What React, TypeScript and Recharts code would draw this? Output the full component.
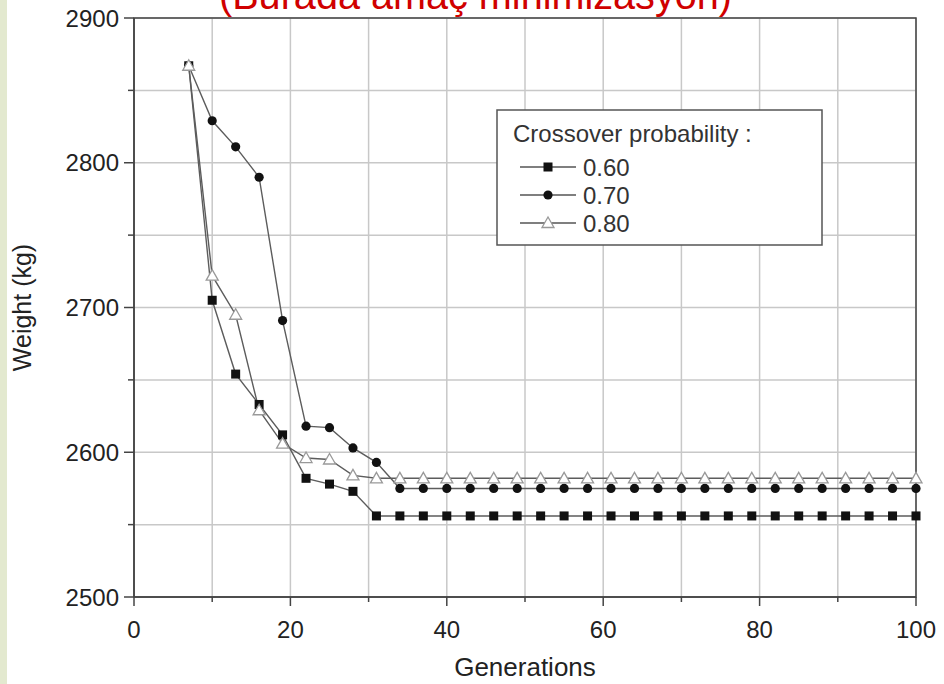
import React from 'react';
import { LineChart, Line, XAxis, YAxis, CartesianGrid, ReferenceArea, Label } from 'recharts';

const generations = [7, 10, 13, 16, 19, 22, 25, 28, 31, 34, 37, 40, 43, 46, 49, 52, 55, 58, 61, 64, 67, 70, 73, 76, 79, 82, 85, 88, 91, 94, 97, 100];
const p060 = [2867, 2705, 2654, 2633, 2612, 2582, 2578, 2573, 2556, 2556, 2556, 2556, 2556, 2556, 2556, 2556, 2556, 2556, 2556, 2556, 2556, 2556, 2556, 2556, 2556, 2556, 2556, 2556, 2556, 2556, 2556, 2556];
const p070 = [2867, 2829, 2811, 2790, 2691, 2618, 2617, 2603, 2593, 2575, 2575, 2575, 2575, 2575, 2575, 2575, 2575, 2575, 2575, 2575, 2575, 2575, 2575, 2575, 2575, 2575, 2575, 2575, 2575, 2575, 2575, 2575];
const p080 = [2867, 2722, 2695, 2629, 2606, 2596, 2595, 2584, 2582, 2582, 2582, 2582, 2582, 2582, 2582, 2582, 2582, 2582, 2582, 2582, 2582, 2582, 2582, 2582, 2582, 2582, 2582, 2582, 2582, 2582, 2582, 2582];
const seriesNames = ['0.60', '0.70', '0.80'];
const xTicks = [0, 10, 20, 30, 40, 50, 60, 70, 80, 90, 100];
const yTicks = [2500, 2550, 2600, 2650, 2700, 2750, 2800, 2850, 2900];
const legendTitle = 'Crossover probability :';
const chartTitle = '(Burada amaç minimizasyon)';
const xTitle = 'Generations';
const yTitle = 'Weight (kg)';

const rows = generations.map((g, i) => ({ g, a: p060[i], b: p070[i], c: p080[i] }));

const FONT = "'Liberation Sans', Arial, sans-serif";
const AXIS = '#444';
const LINE = '#5c5c5c';

const Square = ({ cx, cy }: any) => <rect x={cx - 4.5} y={cy - 4.5} width={9} height={9} fill="#111" />;
const Dot = ({ cx, cy }: any) => <circle cx={cx} cy={cy} r={4.6} fill="#111" />;
const Tri = ({ cx, cy }: any) => (
  <polygon points={`${cx},${cy - 6} ${cx - 6},${cy + 4.5} ${cx + 6},${cy + 4.5}`} fill="#fff" stroke="#999" strokeWidth={1.3} />
);

const XTick = (props: any) => {
  const { x, y, payload } = props;
  const v = payload.value;
  const major = v % 20 === 0;
  return (
    <g>
      <line x1={x} x2={x} y1={y} y2={y + (major ? 9 : 5)} stroke={AXIS} strokeWidth={1.5} />
      {major && (
        <text x={x} y={y + 41} textAnchor="middle" fontSize={24} fill="#222" fontFamily={FONT}>
          {v}
        </text>
      )}
    </g>
  );
};

const YTick = (props: any) => {
  const { x, y, payload } = props;
  const v = payload.value;
  const major = v % 100 === 0;
  return (
    <g>
      <line x1={x - (major ? 10 : 6)} x2={x} y1={y} y2={y} stroke={AXIS} strokeWidth={1.5} />
      {major && (
        <text x={x - 15} y={y + 8.5} textAnchor="end" fontSize={24} fill="#222" fontFamily={FONT}>
          {v}
        </text>
      )}
    </g>
  );
};

const markers = [Square, Dot, Tri];

export default function App() {
  return (
    <div style={{ position: 'absolute', left: 0, top: 0, width: 944, height: 684, background: '#fff', overflow: 'hidden', fontFamily: FONT }}>
      <div style={{ position: 'absolute', left: 0, top: 0, width: 7, height: 684, background: '#e3e9cf' }} />
      <div style={{ position: 'absolute', left: 0, top: 0 }}>
        <LineChart width={944} height={684} data={rows} margin={{ top: 18, right: 28, bottom: 27, left: 0 }}>
          <CartesianGrid stroke="#c8c8c8" strokeWidth={1.5} vertical horizontal />
          <XAxis
            dataKey="g"
            type="number"
            domain={[0, 100]}
            ticks={xTicks}
            interval={0}
            height={60}
            tickSize={0}
            tickMargin={0}
            tickLine={false}
            axisLine={{ stroke: AXIS, strokeWidth: 1.5 }}
            tick={<XTick />}
          >
            <Label
              content={({ viewBox }: any) => (
                <text x={viewBox.x + viewBox.width / 2} y={viewBox.y + 79} textAnchor="middle" fontSize={26} fill="#222" fontFamily={FONT}>
                  {xTitle}
                </text>
              )}
            />
          </XAxis>
          <YAxis
            type="number"
            domain={[2500, 2900]}
            ticks={yTicks}
            interval={0}
            width={134}
            tickSize={0}
            tickMargin={0}
            tickLine={false}
            axisLine={{ stroke: AXIS, strokeWidth: 1.5 }}
            tick={<YTick />}
          >
            <Label
              content={({ viewBox }: any) => {
                const cx = 22;
                const cy = viewBox.y + viewBox.height / 2;
                return (
                  <text x={cx} y={cy} transform={`rotate(-90 ${cx} ${cy})`} textAnchor="middle" dominantBaseline="central" fontSize={25} fill="#222" fontFamily={FONT}>
                    {yTitle}
                  </text>
                );
              }}
            />
          </YAxis>
          <ReferenceArea x1={0} x2={100} y1={2500} y2={2900} fill="none" fillOpacity={0} stroke={AXIS} strokeWidth={1.5} strokeOpacity={1} />
          <Line dataKey="b" name={seriesNames[1]} stroke={LINE} strokeWidth={1.4} isAnimationActive={false} dot={(p: any) => <Dot key={p.index} cx={p.cx} cy={p.cy} />} />
          <Line dataKey="a" name={seriesNames[0]} stroke={LINE} strokeWidth={1.4} isAnimationActive={false} dot={(p: any) => <Square key={p.index} cx={p.cx} cy={p.cy} />} />
          <Line dataKey="c" name={seriesNames[2]} stroke={LINE} strokeWidth={1.4} isAnimationActive={false} dot={(p: any) => <Tri key={p.index} cx={p.cx} cy={p.cy} />} />
        </LineChart>
      </div>
      <svg width={944} height={684} style={{ position: 'absolute', left: 0, top: 0, pointerEvents: 'none' }}>
        <text x={219} y={9} fontSize={40} fill="#d00000" fontFamily={FONT} textLength={513} lengthAdjust="spacingAndGlyphs">
          {chartTitle}
        </text>
        <rect x={497} y={110} width={325} height={135} fill="#fff" stroke="#555" strokeWidth={1.5} />
        <text x={513} y={142} fontSize={24} fill="#333" fontFamily={FONT}>
          {legendTitle}
        </text>
        {seriesNames.map((name, i) => {
          const cy = 167 + i * 28;
          const M = markers[i];
          return (
            <g key={name}>
              <line x1={520} x2={576} y1={cy} y2={cy} stroke="#555" strokeWidth={1.5} />
              <M cx={548} cy={cy} />
              <text x={583} y={cy + 8.5} fontSize={24} fill="#333" fontFamily={FONT}>
                {name}
              </text>
            </g>
          );
        })}
      </svg>
    </div>
  );
}
